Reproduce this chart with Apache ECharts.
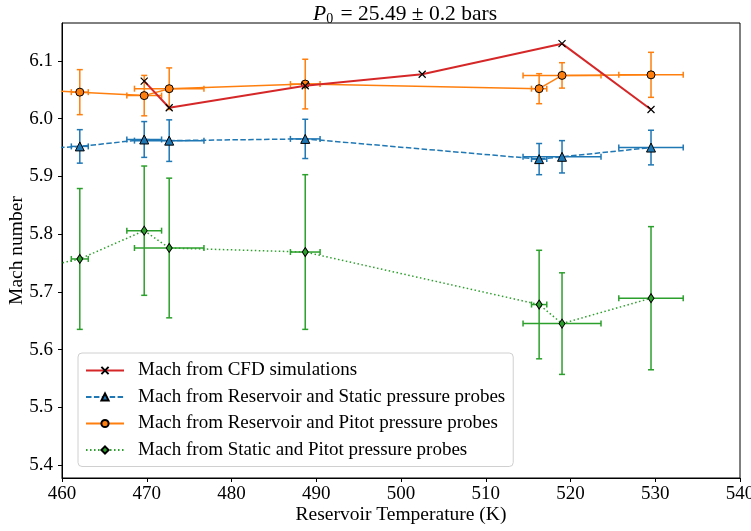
<!DOCTYPE html>
<html>
<head>
<meta charset="utf-8">
<script src="https://cdn.jsdelivr.net/npm/echarts@6/dist/echarts.min.js"></script>
<style>
  html, body { margin: 0; padding: 0; background: #fff; }
  #main { width: 751px; height: 531px; }
</style>
</head>
<body>
<div id="main"></div>
<script>
// reservoir temperatures of the runs (K) and their uncertainty
var temps = [462.1, 469.7, 472.65, 488.7, 516.3, 519.0, 529.5];
var tempErr = [1.0, 2.05, 4.1, 1.75, 0.9, 4.6, 3.8];

// Mach from reservoir + static probes
var machStatic = [5.952, 5.964, 5.962, 5.965, 5.930, 5.934, 5.950];
var errStatic = [0.029, 0.031, 0.036, 0.034, 0.027, 0.028, 0.030];

// Mach from reservoir + pitot probes
var machPitot = [6.046, 6.040, 6.052, 6.060, 6.052, 6.075, 6.076];
var errPitot = [0.039, 0.035, 0.036, 0.043, 0.026, 0.022, 0.039];

// Mach from static + pitot probes
var machStaticPitot = [5.757, 5.806, 5.776, 5.769, 5.678, 5.645, 5.689];
var errStaticPitot = [0.122, 0.112, 0.121, 0.134, 0.094, 0.088, 0.124];

// a run just left of the axis range: only its connecting segment shows
var offTemp = 455;
var offStatic = 5.946, offPitot = 6.051, offStaticPitot = 5.734;

// CFD
var cfdTemps = [469.7, 472.65, 488.7, 502.5, 519.0, 529.5];
var cfdMach = [6.065, 6.019, 6.057, 6.077, 6.130, 6.016];

var xTicks = [460, 470, 480, 490, 500, 510, 520, 530, 540];
var yTicks = [5.4, 5.5, 5.6, 5.7, 5.8, 5.9, 6.0, 6.1];

var names = [
  'Mach from CFD simulations',
  'Mach from Reservoir and Static pressure probes',
  'Mach from Reservoir and Pitot pressure probes',
  'Mach from Static and Pitot pressure probes'
];

var FONT = 'Liberation Serif';

function linePts(off, ys) {
  var out = [[offTemp, off]];
  for (var i = 0; i < temps.length; i++) out.push([temps[i], ys[i]]);
  return out;
}
function errPts(ys, es) {
  return temps.map(function (t, i) { return [t, ys[i], tempErr[i], es[i]]; });
}

function errBars(color) {
  return function (params, api) {
    var x = api.value(0), y = api.value(1), ex = api.value(2), ey = api.value(3);
    var l = api.coord([x - ex, y]), r = api.coord([x + ex, y]);
    var t = api.coord([x, y + ey]), b = api.coord([x, y - ey]);
    var cap = 3;
    var st = { stroke: color, lineWidth: 1.5, fill: null };
    function seg(x1, y1, x2, y2) {
      return { type: 'line', shape: { x1: x1, y1: y1, x2: x2, y2: y2 }, style: st };
    }
    return {
      type: 'group',
      children: [
        seg(l[0], l[1], r[0], r[1]),
        seg(l[0], l[1] - cap, l[0], l[1] + cap),
        seg(r[0], r[1] - cap, r[0], r[1] + cap),
        seg(t[0], t[1], b[0], b[1]),
        seg(t[0] - cap, t[1], t[0] + cap, t[1]),
        seg(b[0] - cap, b[1], b[0] + cap, b[1])
      ]
    };
  };
}

var blue = '#1f77b4', orange = '#ff7f0e', green = '#2ca02c', red = '#d62728';

var chart = echarts.init(document.getElementById('main'));

var option = {
  animation: false,
  backgroundColor: '#fff',
  title: {
    text: '{i|P}{s|0} = 25.49 ± 0.2 bars',
    left: 400,
    textAlign: 'center',
    top: -2,
    textStyle: {
      fontFamily: FONT,
      fontSize: 21.5,
      fontWeight: 'normal',
      color: '#000',
      rich: {
        i: { fontFamily: FONT, fontSize: 21.5, fontStyle: 'italic', color: '#000' },
        s: { fontFamily: FONT, fontSize: 14, color: '#000', verticalAlign: 'bottom', padding: [9, 2, 0, 0] }
      }
    }
  },
  grid: {
    left: 62, right: 11, top: 23, bottom: 53,
    outerBoundsMode: 'none',
    containLabel: false,
    show: true, borderColor: '#000', borderWidth: 1
  },
  legend: {
    orient: 'vertical',
    left: 78,
    top: 353,
    data: names,
    itemWidth: 38,
    itemHeight: 9,
    itemGap: 7.5,
    padding: [8, 8, 7, 7],
    backgroundColor: 'rgba(255,255,255,0.85)',
    borderColor: '#d0d0d0',
    borderWidth: 1,
    borderRadius: 4,
    textStyle: {
      fontFamily: FONT,
      fontSize: 19,
      color: '#000',
      lineHeight: 19,
      padding: [0, 0, 0, 9]
    }
  },
  xAxis: {
    type: 'value',
    min: 460, max: 540, interval: 10,
    name: 'Reservoir Temperature (K)',
    nameLocation: 'middle',
    nameGap: 27,
    nameMoveOverlap: false,
    nameTextStyle: { fontFamily: FONT, fontSize: 19.5, color: '#000' },
    axisLine: { show: true, lineStyle: { color: '#000', width: 1 } },
    axisTick: { show: true, inside: false, length: 4, lineStyle: { color: '#000', width: 1 } },
    axisLabel: { fontFamily: FONT, fontSize: 19, color: '#000', margin: 7 },
    splitLine: { show: false }
  },
  yAxis: {
    type: 'value',
    min: 5.3775, max: 6.1658,
    name: 'Mach number',
    nameLocation: 'middle',
    nameRotate: 90,
    nameGap: 35,
    nameMoveOverlap: false,
    nameTextStyle: { fontFamily: FONT, fontSize: 19.5, color: '#000' },
    axisLine: { show: true, lineStyle: { color: '#000', width: 1 } },
    axisTick: { show: true, inside: false, length: 4, customValues: yTicks, lineStyle: { color: '#000', width: 1 } },
    axisLabel: {
      fontFamily: FONT, fontSize: 19, color: '#000', margin: 9,
      customValues: yTicks,
      formatter: function (v) { return v.toFixed(1); }
    },
    splitLine: { show: false }
  },
  series: [
    {
      name: 'err-static', type: 'custom', z: 2, clip: true,
      renderItem: errBars(blue),
      encode: { x: 0, y: 1 },
      data: errPts(machStatic, errStatic),
      silent: true
    },
    {
      name: 'err-pitot', type: 'custom', z: 2, clip: true,
      renderItem: errBars(orange),
      encode: { x: 0, y: 1 },
      data: errPts(machPitot, errPitot),
      silent: true
    },
    {
      name: 'err-static-pitot', type: 'custom', z: 2, clip: true,
      renderItem: errBars(green),
      encode: { x: 0, y: 1 },
      data: errPts(machStaticPitot, errStaticPitot),
      silent: true
    },
    {
      name: names[1], type: 'line', z: 3, clip: true,
      data: linePts(offStatic, machStatic),
      symbol: 'triangle', symbolSize: 9,
      lineStyle: { color: blue, width: 1.5, type: [5.5, 2.4] },
      itemStyle: { color: blue, borderColor: '#000', borderWidth: 1 }
    },
    {
      name: names[2], type: 'line', z: 3, clip: true,
      data: linePts(offPitot, machPitot),
      symbol: 'circle', symbolSize: 8,
      lineStyle: { color: orange, width: 1.5 },
      itemStyle: { color: orange, borderColor: '#000', borderWidth: 1 }
    },
    {
      name: names[3], type: 'line', z: 3, clip: true,
      data: linePts(offStaticPitot, machStaticPitot),
      symbol: 'diamond', symbolSize: [6, 9],
      lineStyle: { color: green, width: 1.5, type: [1.5, 2.5] },
      itemStyle: { color: green, borderColor: '#000', borderWidth: 1 }
    },
    {
      name: names[0], type: 'line', z: 4, clip: true,
      data: cfdTemps.map(function (t, i) { return [t, cfdMach[i]]; }),
      symbol: 'path://M0,0L10,10M10,0L0,10', symbolSize: 7,
      lineStyle: { color: red, width: 2 },
      itemStyle: { color: red, borderColor: '#000', borderWidth: 1.2 }
    }
  ]
};

chart.setOption(option);
</script>
</body>
</html>
